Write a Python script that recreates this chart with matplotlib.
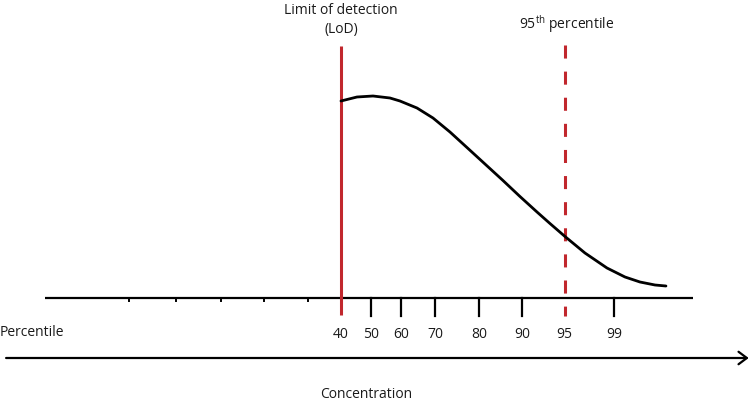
import matplotlib
matplotlib.use('Agg')
import matplotlib.pyplot as plt

plt.rcParams['font.family'] = ['Open Sans', 'DejaVu Sans']
plt.rcParams['mathtext.fontset'] = 'custom'
plt.rcParams['mathtext.rm'] = 'Open Sans'
plt.rcParams['lines.scale_dashes'] = False

# concentration (arbitrary units, axis runs 0-100) and relative density
conc = [45.68, 48.15, 50.62, 53.24, 54.78, 57.41, 59.88, 62.50, 65.12, 67.90,
        70.68, 73.30, 75.93, 77.93, 80.25, 83.33, 86.73, 89.51, 91.82, 94.14, 95.83]
density = [197, 201, 202, 200, 197, 190, 180, 166, 150.5, 134,
           117.5, 101.5, 86, 74.5, 61.5, 45, 30, 21, 16, 13, 12]

# percentile tick positions on the concentration axis
pct_labels = ['40', '50', '60', '70', '80', '90', '95', '99']
pct_pos = [45.7, 50.3, 54.9, 60.2, 67.0, 73.6, 80.2, 87.8]
minor_pos = [13.0, 20.2, 27.2, 33.8, 40.6]

lod = 45.7
p95 = 80.2
red = '#c1272d'
txt = '#1a1a1a'

fig = plt.figure(figsize=(7.5, 4.12), dpi=100)
ax = fig.add_axes([0, 0, 1, 1])
ax.set_xlim(-6.94, 108.8)
ax.set_ylim(-114, 298)
ax.axis('off')

# percentile axis line
ax.plot([0, 100], [0, 0], color='black', lw=1.6, solid_capstyle='butt')
for x in minor_pos:
    ax.plot([x, x], [0, -3], color='black', lw=1.4)
for x, lab in zip(pct_pos, pct_labels):
    if lab not in ('40', '95'):
        ax.plot([x, x], [0, -18], color='black', lw=1.6)
    ax.text(x, -37, lab, ha='center', va='center', fontsize=10, color=txt)

# LoD and 95th percentile lines
ax.plot([lod, lod], [252, -17], color=red, lw=2.2, solid_capstyle='butt')
ax.plot([p95, p95], [253, -18], color=red, lw=2.2, dashes=(9.4, 9.4),
        dash_capstyle='butt')

# distribution curve
ax.plot(conc, density, color='black', lw=2.0, solid_capstyle='round',
        solid_joinstyle='round')

ax.text(lod, 278, 'Limit of detection\n(LoD)', ha='center', va='center',
        fontsize=10, color=txt, linespacing=1.45)
ax.text(p95 + 0.3, 274, '95$^{\\mathrm{th}}$ percentile', ha='center', va='center',
        fontsize=10, color=txt)

ax.text(-6.94, -35, 'Percentile', ha='left', va='center', fontsize=10, color=txt)

# concentration arrow
ax.annotate('', xy=(108.6, -60), xytext=(-6.0, -60),
            arrowprops=dict(arrowstyle='->,head_length=0.6,head_width=0.45',
                            color='black', lw=1.6, shrinkA=0, shrinkB=0))
ax.text(49.5, -97, 'Concentration', ha='center', va='center', fontsize=10,
        color=txt)

fig.savefig('out.png', dpi=100)
